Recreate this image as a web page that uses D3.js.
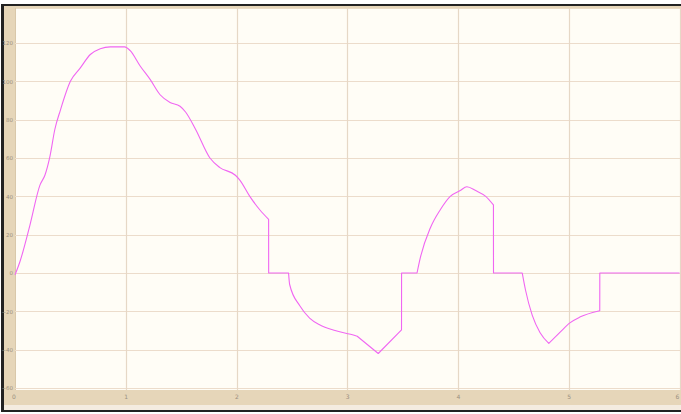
<!DOCTYPE html>
<html>
<head>
<meta charset="utf-8">
<script src="https://cdn.jsdelivr.net/npm/d3@7"></script>
<style>
  html, body { margin: 0; padding: 0; background: #ffffff; }
  svg { display: block; }
</style>
</head>
<body>
<svg id="chart" width="681" height="414"></svg>
<script>
// Scope trace: time (s) vs signal
const timeTicks = [0, 1, 2, 3, 4, 5, 6];
const valueTicks = [-60, -40, -20, 0, 20, 40, 60, 80, 100, 120];

const times = [
  0.00, 0.045, 0.135, 0.226, 0.27, 0.316, 0.36, 0.41, 0.50, 0.59, 0.68, 0.77, 0.86, 0.99,
  1.04, 1.13, 1.22, 1.31, 1.40, 1.49, 1.54, 1.63, 1.76, 1.85, 1.99, 2.03, 2.12, 2.21, 2.29,
  2.2905, 2.47, 2.48, 2.57, 2.66, 2.75, 2.89, 3.03, 3.09, 3.28, 3.49,
  3.4905, 3.63, 3.66, 3.75, 3.84, 3.93, 4.02, 4.08, 4.16, 4.25, 4.32,
  4.3205, 4.58, 4.61, 4.67, 4.74, 4.82, 4.92, 5.01, 5.10, 5.28,
  5.2805, 5.60, 6.00
];
const values = [
  -1, 6, 25, 46, 51, 61, 75, 85, 100, 107, 114, 117, 118, 118,
  116, 108, 101, 93, 89, 87, 84, 75, 60, 55, 51, 48.5, 40, 33, 28,
  0, 0, -6, -17, -23.5, -27, -30, -32, -33, -42, -29.7,
  0, 0, 8, 23.5, 33, 40, 43, 45, 43, 40, 35.5,
  0, 0, -9, -22, -31, -36.7, -31, -26, -23, -19.7,
  0, 0, 0
];
// instants where the trace has a corner (switching / sharp minima)
const corners = [2.29, 2.2905, 2.47, 3.09, 3.28, 3.49, 3.4905, 3.63, 4.32, 4.3205, 4.58, 4.82, 5.28, 5.2805];

const svg = d3.select("#chart");
const W = 681, H = 414;
const plot = { left: 15, right: 679.5, top: 8, bottom: 390 };

const x = d3.scaleLinear().domain([0, 6]).range([plot.left, plot.right]);
const y = d3.scaleLinear().domain([-60, 120]).range([388, 43]);

// window frame
svg.append("rect").attr("x", 0).attr("y", 0).attr("width", W).attr("height", H).attr("fill", "#ffffff");
svg.append("rect").attr("x", 1).attr("y", 4).attr("width", W - 1).attr("height", 408).attr("fill", "#222222");
svg.append("rect").attr("x", 4).attr("y", 6).attr("width", W - 4).attr("height", 404).attr("fill", "#e6d6b9");
svg.append("rect").attr("x", 4).attr("y", 405).attr("width", W - 4).attr("height", 5).attr("fill", "#f4ece0");

// plot area
svg.append("rect")
  .attr("x", plot.left).attr("y", plot.top)
  .attr("width", W - plot.left).attr("height", plot.bottom - plot.top)
  .attr("fill", "#fffdf6");
svg.append("line")
  .attr("x1", plot.left).attr("x2", W).attr("y1", plot.top + 0.5).attr("y2", plot.top + 0.5)
  .attr("stroke", "#eadcc6");
svg.append("line")
  .attr("x1", plot.left + 0.5).attr("x2", plot.left + 0.5).attr("y1", plot.top).attr("y2", plot.bottom)
  .attr("stroke", "#d9c8aa");

// grid
const grid = svg.append("g");
grid.selectAll("line.h").data(valueTicks).join("line")
  .attr("x1", plot.left).attr("x2", W)
  .attr("y1", d => Math.round(y(d)) + 0.5).attr("y2", d => Math.round(y(d)) + 0.5)
  .attr("stroke", "#ecdccb").attr("stroke-width", 1.2);
grid.selectAll("line.v").data(timeTicks.slice(1)).join("line")
  .attr("x1", d => Math.round(x(d)) + 0.5).attr("x2", d => Math.round(x(d)) + 0.5)
  .attr("y1", plot.top).attr("y2", plot.bottom)
  .attr("stroke", "#e6d8c6").attr("stroke-width", 1.2);

// axes (labels only, drawn in the frame)
const yAxis = d3.axisLeft(y).tickValues(valueTicks).tickSize(0).tickPadding(2);
const gy = svg.append("g").attr("transform", `translate(${plot.left},0)`).call(yAxis);
gy.select(".domain").remove();
gy.selectAll("text").attr("fill", "#9a8f80").attr("font-family", "DejaVu Sans, sans-serif")
  .attr("font-size", 5.5).attr("dy", "0.35em");

const xAxis = d3.axisBottom(x).tickValues(timeTicks).tickFormat(d3.format("d")).tickSize(0).tickPadding(0);
const gx = svg.append("g").attr("transform", "translate(0,395)").call(xAxis);
gx.select(".domain").remove();
gx.selectAll("text").attr("fill", "#9a8f80").attr("font-family", "DejaVu Sans, sans-serif")
  .attr("font-size", 6).attr("dy", "0.71em");
gx.selectAll(".tick").filter(d => d === 0).attr("transform", `translate(${x(0) - 1},0)`);
gx.selectAll(".tick").filter(d => d === 6).attr("transform", `translate(${x(6) - 2},0)`);

// signal trace: smooth runs joined at the corner instants
const pts = times.map((t, i) => [t, values[i]]);
const runs = [];
let cur = [];
pts.forEach(p => {
  cur.push(p);
  if (corners.includes(p[0])) { runs.push(cur); cur = [p]; }
});
if (cur.length > 1) runs.push(cur);

const line = d3.line().x(d => x(d[0])).y(d => y(d[1])).curve(d3.curveMonotoneX);
const pathD = runs.map((r, i) => {
  const d = line(r);
  return i === 0 ? d : "L" + d.slice(1);
}).join("");
svg.append("path")
  .attr("d", pathD)
  .attr("fill", "none")
  .attr("stroke", "#f066f2")
  .attr("stroke-width", 1.1)
  .attr("stroke-linejoin", "round");
</script>
</body>
</html>
